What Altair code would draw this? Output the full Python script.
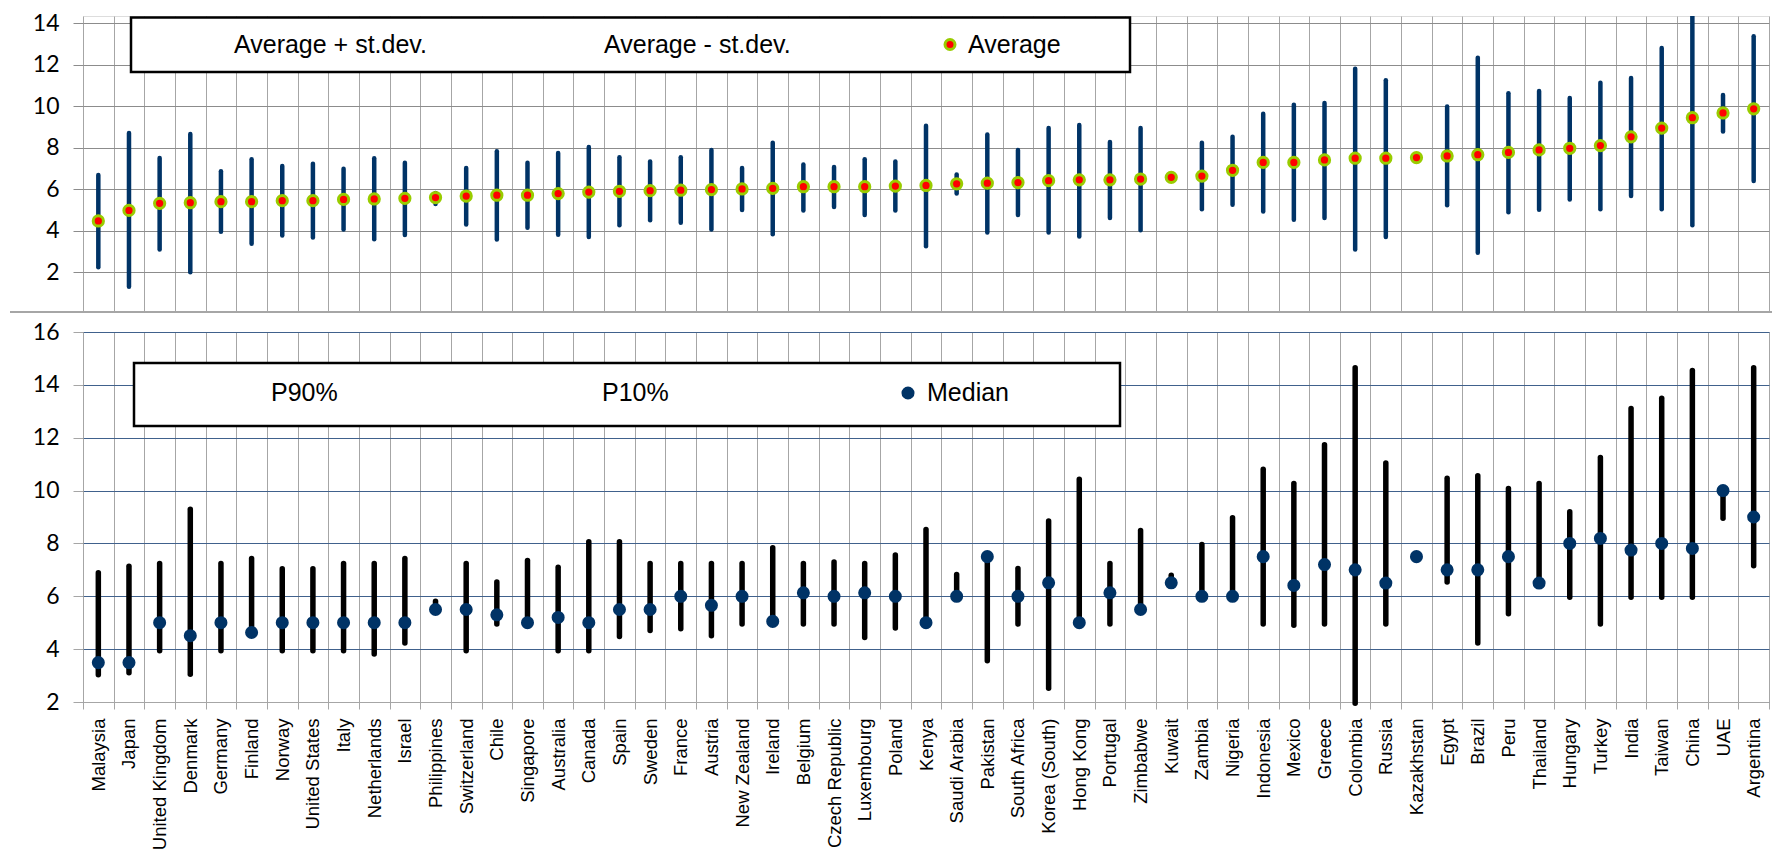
import altair as alt
import pandas as pd

countries = ["Malaysia", "Japan", "United Kingdom", "Denmark", "Germany", "Finland", "Norway",
             "United States", "Italy", "Netherlands", "Israel", "Philippines", "Switzerland", "Chile",
             "Singapore", "Australia", "Canada", "Spain", "Sweden", "France", "Austria", "New Zealand",
             "Ireland", "Belgium", "Czech Republic", "Luxembourg", "Poland", "Kenya", "Saudi Arabia",
             "Pakistan", "South Africa", "Korea (South)", "Hong Kong", "Portugal", "Zimbabwe", "Kuwait",
             "Zambia", "Nigeria", "Indonesia", "Mexico", "Greece", "Colombia", "Russia", "Kazakhstan",
             "Egypt", "Brazil", "Peru", "Thailand", "Hungary", "Turkey", "India", "Taiwan", "China",
             "UAE", "Argentina"]

average = [4.47, 4.98, 5.32, 5.35, 5.40, 5.40, 5.45, 5.45, 5.51, 5.53, 5.56, 5.60, 5.67, 5.71,
           5.71, 5.79, 5.86, 5.90, 5.93, 5.95, 5.98, 6.01, 6.04, 6.12, 6.12, 6.12, 6.15, 6.18, 6.26,
           6.29, 6.32, 6.41, 6.45, 6.45, 6.49, 6.57, 6.63, 6.91, 7.29, 7.29, 7.41, 7.49, 7.49, 7.52,
           7.60, 7.66, 7.77, 7.89, 7.97, 8.10, 8.52, 8.94, 9.44, 9.67, 9.87]

avg_plus_sd = [6.68, 8.70, 7.50, 8.66, 6.87, 7.44, 7.12, 7.22, 6.99, 7.49, 7.27, 5.82, 7.02, 7.83,
               7.27, 7.74, 8.03, 7.54, 7.33, 7.54, 7.89, 7.02, 8.24, 7.19, 7.07, 7.44, 7.33, 9.06, 6.71,
               8.63, 7.89, 8.94, 9.09, 8.27, 8.94, None, 8.24, 8.52, 9.63, 10.06, 10.15, 11.80, 11.24,
               None, 9.98, 12.33, 10.62, 10.73, 10.39, 11.12, 11.35, 12.80, 14.60, 10.53, 13.36]

avg_minus_sd = [2.24, 1.31, 3.10, 2.00, 3.95, 3.38, 3.77, 3.67, 4.06, 3.59, 3.80, 5.29, 4.30, 3.58,
                4.14, 3.81, 3.70, 4.27, 4.50, 4.39, 4.06, 5.00, 3.83, 4.97, 5.14, 4.76, 4.97, 3.25, 5.79,
                3.92, 4.76, 3.92, 3.72, 4.61, 4.03, None, 5.04, 5.25, 4.93, 4.53, 4.61, 3.10, 3.70,
                None, 5.23, 2.94, 4.89, 5.01, 5.51, 5.04, 5.67, 5.04, 4.26, 8.78, 6.40]

median = [3.49, 3.49, 5.00, 4.51, 5.00, 4.63, 5.00, 5.00, 5.00, 5.00, 5.00, 5.50, 5.50, 5.30,
          5.00, 5.20, 5.00, 5.50, 5.50, 6.00, 5.66, 6.00, 5.05, 6.13, 6.00, 6.13, 6.00, 5.00, 6.00,
          7.50, 6.00, 6.51, 5.00, 6.13, 5.50, 6.51, 6.00, 6.00, 7.50, 6.41, 7.20, 7.00, 6.50, 7.50,
          7.00, 7.00, 7.50, 6.50, 8.00, 8.19, 7.75, 8.00, 7.81, 10.00, 9.00]

p90 = [6.89, 7.14, 7.24, 9.29, 7.24, 7.43, 7.04, 7.04, 7.24, 7.24, 7.43, 5.81, 7.24, 6.54,
       7.35, 7.10, 8.06, 8.06, 7.24, 7.24, 7.24, 7.24, 7.84, 7.24, 7.30, 7.24, 7.56, 8.53, 6.82,
       7.50, 7.05, 8.85, 10.43, 7.24, 8.49, 6.80, 7.96, 8.97, 10.81, 10.27, 11.73, 14.65, 11.04,
       None, 10.47, 10.56, 10.08, 10.27, 9.20, 11.25, 13.11, 13.49, 14.54, 10.00, 14.65]

p10 = [3.03, 3.11, 3.94, 3.05, 3.94, 4.63, 3.94, 3.94, 3.94, 3.82, 4.23, 5.50, 3.94, 4.95,
       5.00, 3.94, 3.94, 4.48, 4.71, 4.77, 4.51, 4.95, 5.05, 4.95, 4.95, 4.44, 4.80, 5.00, 6.00,
       3.56, 4.95, 2.52, 5.00, 4.95, 5.50, 6.51, 6.00, 6.00, 4.95, 4.90, 4.95, 1.95, 4.95,
       None, 6.54, 4.23, 5.34, 6.50, 5.96, 4.95, 5.96, 5.96, 5.96, 8.95, 7.16]

top_legend = ["Average + st.dev.", "Average - st.dev.", "Average"]
bottom_legend = ["P90%", "P10%", "Median"]
top_ticks = [2, 4, 6, 8, 10, 12, 14]
bottom_ticks = [2, 4, 6, 8, 10, 12, 14, 16]

df = pd.DataFrame({"country": countries, "avg": average, "hi": avg_plus_sd, "lo": avg_minus_sd,
                   "median": median, "p90": p90, "p10": p10})

W = 1686
H1 = 295.5
H2 = 370
NAVY = "#003366"
GRID = "#a6a6a6"
HGRID_TOP = "#8c8c8c"
HGRID_BOT = "#40618c"
one = pd.DataFrame({"k": [0]})

xscale = alt.Scale(type="band", paddingInner=0, paddingOuter=0)

top_x = alt.X("country:N", sort=countries, scale=xscale,
              axis=alt.Axis(title=None, labels=False, ticks=False, domain=False, grid=True,
                            gridColor=GRID, gridWidth=1, tickBand="extent"))
top_y_scale = alt.Scale(domain=[0.113, 14.337], nice=False, zero=False)
top_y_axis = alt.Axis(title=None, values=top_ticks, labelFont="Lato", labelFontSize=23,
                      labelColor="black", tickSize=10, tickColor=HGRID_TOP, labelPadding=14,
                      domain=False, grid=True, gridColor=HGRID_TOP, minExtent=74, maxExtent=74)

top_bars = alt.Chart(df).transform_filter("isValid(datum.hi)").mark_rule(
    color=NAVY, strokeWidth=4.5, strokeCap="round", clip=True
).encode(x=top_x, y=alt.Y("lo:Q", scale=top_y_scale, axis=top_y_axis), y2="hi:Q")

top_pts = alt.Chart(df).mark_point(
    shape="circle", filled=True, fill="#ff0000", stroke="#99cc00", strokeWidth=3, size=105, opacity=1
).encode(x=top_x, y=alt.Y("avg:Q", scale=top_y_scale, axis=top_y_axis))

top_box = alt.Chart(one).mark_rect(fill="white", stroke="black", strokeWidth=2.5).encode(
    x=alt.value(48), x2=alt.value(1047), y=alt.value(1.5), y2=alt.value(56))

def legend_text(label, xpos, ypos):
    return alt.Chart(pd.DataFrame({"label": [label]})).mark_text(
        align="left", baseline="middle", font="Liberation Sans", fontSize=25, color="black"
    ).encode(x=alt.value(xpos), y=alt.value(ypos), text="label:N")

top_leg_dot = alt.Chart(one).mark_point(
    shape="circle", filled=True, fill="#ff0000", stroke="#99cc00", strokeWidth=3, size=100, opacity=1
).encode(x=alt.value(867), y=alt.value(28.5))

top = alt.layer(
    top_bars, top_pts, top_box,
    legend_text(top_legend[0], 151, 28.5),
    legend_text(top_legend[1], 521, 28.5),
    top_leg_dot,
    legend_text(top_legend[2], 885, 28.5),
).properties(width=W, height=H1)

bot_x = alt.X("country:N", sort=countries, scale=xscale,
              axis=alt.Axis(title=None, labelAngle=270, labelFont="Liberation Sans", labelFontSize=18.5,
                            labelColor="black", labelPadding=9, tickSize=7, tickColor=GRID,
                            domain=True, domainColor=GRID, grid=True, gridColor=GRID,
                            tickBand="extent", labelOverlap=False, labelLimit=300))
bot_y_scale = alt.Scale(domain=[2, 16], nice=False, zero=False)
bot_y_axis = alt.Axis(title=None, values=bottom_ticks, labelFont="Lato", labelFontSize=23,
                      labelColor="black", tickSize=10, tickColor=GRID, labelPadding=14,
                      domain=False, grid=True, gridColor=HGRID_BOT, minExtent=74, maxExtent=74)

bot_bars = alt.Chart(df).transform_filter("isValid(datum.p90)").mark_rule(
    color="black", strokeWidth=5.5, strokeCap="round"
).encode(x=bot_x, y=alt.Y("p10:Q", scale=bot_y_scale, axis=bot_y_axis), y2="p90:Q")

bot_pts = alt.Chart(df).mark_point(
    shape="circle", filled=True, color=NAVY, size=170, opacity=1
).encode(x=bot_x, y=alt.Y("median:Q", scale=bot_y_scale, axis=bot_y_axis))

bot_box = alt.Chart(one).mark_rect(fill="white", stroke="black", strokeWidth=2.5).encode(
    x=alt.value(51), x2=alt.value(1037), y=alt.value(31), y2=alt.value(94))

bot_leg_dot = alt.Chart(one).mark_point(
    shape="circle", filled=True, color=NAVY, size=170, opacity=1
).encode(x=alt.value(825), y=alt.value(61))

separator = alt.Chart(one).mark_rule(color=GRID, strokeWidth=2).encode(
    x=alt.value(-73), x2=alt.value(W + 3), y=alt.value(-20))

bottom = alt.layer(
    bot_bars, bot_pts, bot_box,
    legend_text(bottom_legend[0], 188, 61),
    legend_text(bottom_legend[1], 519, 61),
    bot_leg_dot,
    legend_text(bottom_legend[2], 844, 61),
    separator,
).properties(width=W, height=H2, view=alt.ViewBackground(stroke=GRID))

chart = alt.vconcat(top, bottom, spacing=20, bounds="flush").properties(
    padding={"left": 0, "right": 0, "top": 3, "bottom": 0}
).configure_view(stroke=None).configure(background="white")

chart.save("out.html", embed_options={"renderer": "svg", "actions": False})
